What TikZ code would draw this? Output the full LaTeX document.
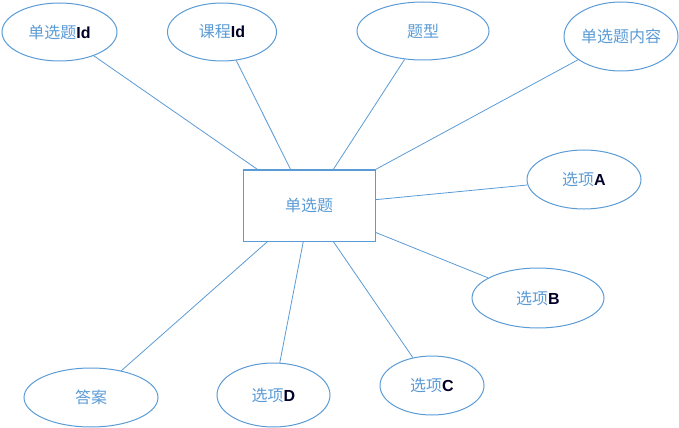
\documentclass[tikz,border=0pt]{standalone}
\usepackage{fontspec}
\setmainfont{Noto Sans CJK SC}
\newfontfamily\latinbf{Liberation Sans}
\usetikzlibrary{shapes.geometric}
\definecolor{erblue}{HTML}{5B9BD5}
\newcommand{\lat}[1]{{\latinbf\bfseries\color{black!85!blue}#1}}
\tikzset{
  entity/.style={draw=erblue, line width=0.75pt, rectangle, inner sep=0pt, text=erblue, font=\fontsize{12}{14}\selectfont},
  attr/.style={draw=erblue, line width=0.75pt, ellipse, inner sep=0pt, text=erblue, font=\fontsize{12}{14}\selectfont},
  link/.style={draw=erblue, line width=0.6pt}
}
\begin{document}
\begin{tikzpicture}[x=0.75pt, y=-0.75pt]
  \useasboundingbox (0,0) rectangle (679,428);
  % 实体
  \node[entity, minimum width=99pt, minimum height=53.25pt] (dxt) at (309,205.5) {单选题};
  % 属性
  \node[attr, minimum width=86.25pt, minimum height=43.5pt] (dxtid) at (59.5,32) {单选题\lat{Id}};
  \node[attr, minimum width=81.75pt, minimum height=43.5pt] (kcid) at (222,32) {课程\lat{Id}};
  \node[attr, minimum width=99pt, minimum height=43.5pt] (tx) at (423,31) {题型};
  \node[attr, minimum width=85.5pt, minimum height=51.75pt] (nr) at (621,36.5) {单选题内容};
  \node[attr, minimum width=85.5pt, minimum height=44.25pt] (xa) at (584,179.5) {选项\lat{A}};
  \node[attr, minimum width=99pt, minimum height=45pt] (xb) at (538,298) {选项\lat{B}};
  \node[attr, minimum width=78pt, minimum height=44.25pt] (xc) at (432,385.5) {选项\lat{C}};
  \node[attr, minimum width=84.75pt, minimum height=48pt] (xd) at (273.5,395) {选项\lat{D}};
  \node[attr, minimum width=100.5pt, minimum height=44.25pt] (da) at (91,397.5) {答案};
  % 连线
  \draw[link] (dxt.145) -- (dxtid);
  \draw[link] (dxt.117) -- (kcid);
  \draw[link] (dxt.56) -- (tx);
  \draw[link] (dxt.north east) -- (nr);
  \draw[link] (dxt.5.6) -- (xa);
  \draw[link] (dxt.-22) -- (xb);
  \draw[link] (dxt.-56) -- (xc);
  \draw[link] (dxt.-99.6) -- (xd);
  \draw[link] (dxt.221.6) -- (da);
\end{tikzpicture}
\end{document}
